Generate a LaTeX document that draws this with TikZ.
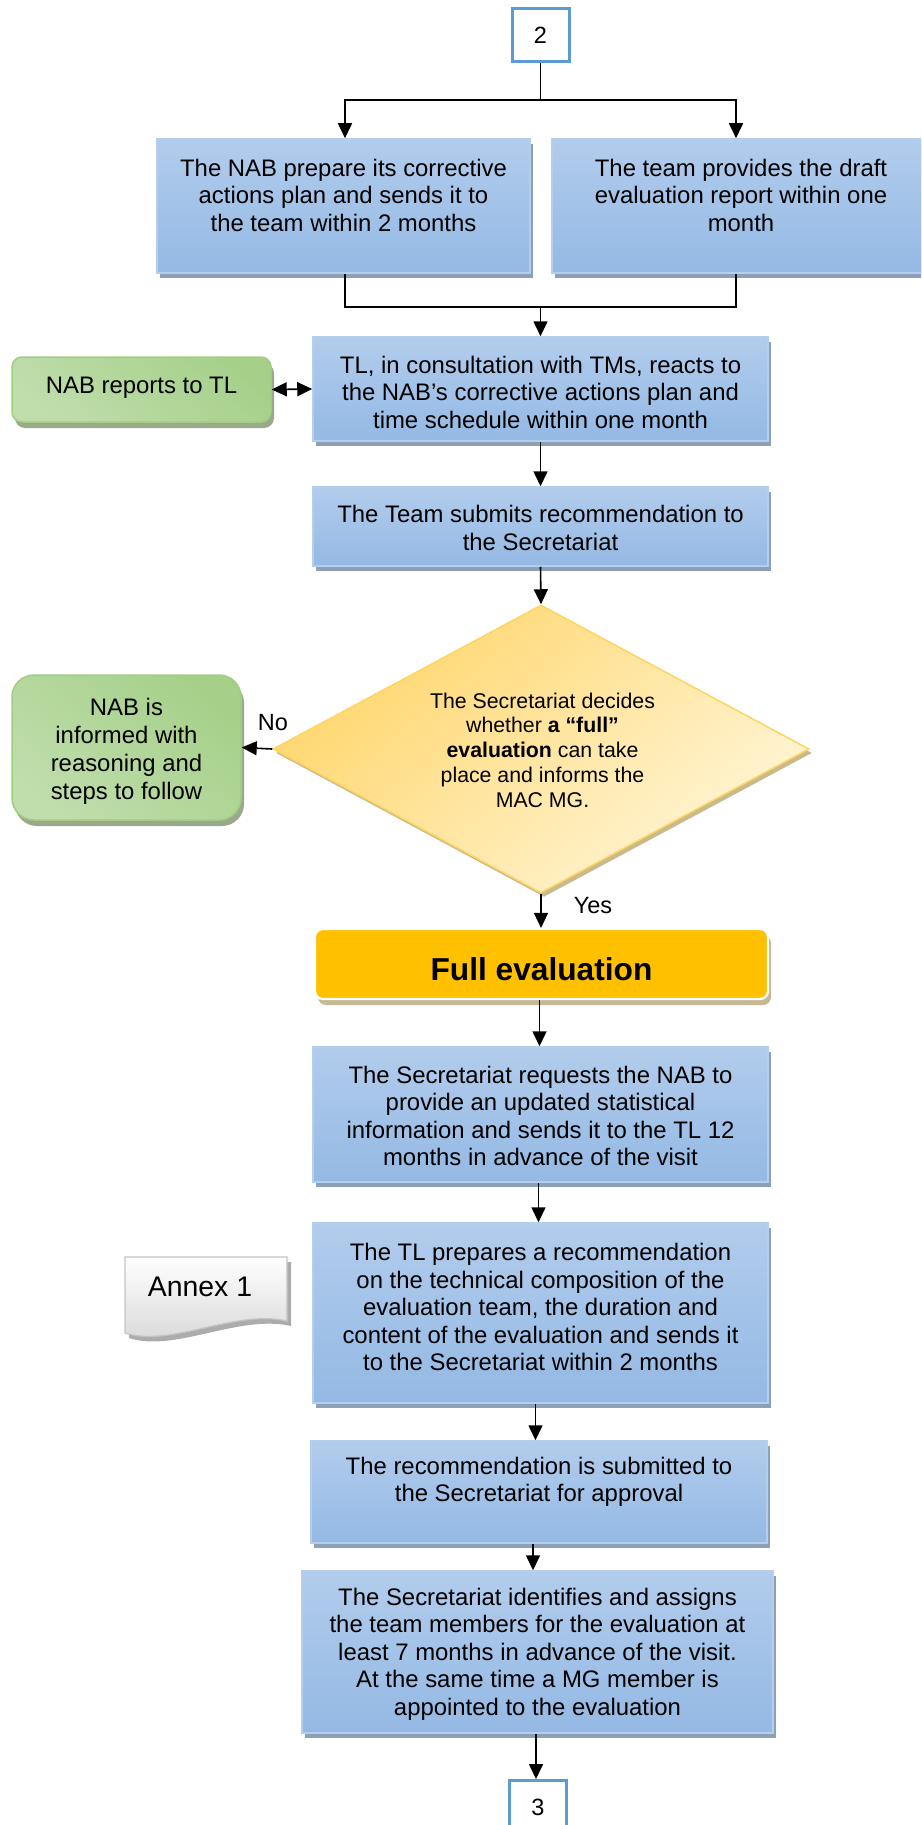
\documentclass[tikz,border=0pt]{standalone}
\usepackage{fontspec}
\setmainfont{Liberation Sans}
\usetikzlibrary{arrows.meta,shapes.geometric,shadows,calc}
\definecolor{bxtop}{RGB}{178,204,236}
\definecolor{bxbot}{RGB}{148,185,228}
\definecolor{bxline}{RGB}{182,206,238}
\definecolor{bxshadow}{RGB}{140,160,184}
\definecolor{conblue}{RGB}{91,155,213}
\definecolor{grdark}{RGB}{166,208,138}
\definecolor{grlight}{RGB}{230,241,222}
\definecolor{grline}{RGB}{160,205,130}
\definecolor{grshadow}{RGB}{155,168,140}
\definecolor{dmdark}{RGB}{255,214,108}
\definecolor{dmlight}{RGB}{255,245,215}
\definecolor{dmline}{RGB}{255,212,95}
\definecolor{dmshadow}{RGB}{200,186,140}
\definecolor{feorange}{RGB}{255,192,0}
\definecolor{feshadow}{RGB}{198,184,146}
\definecolor{anxbot}{RGB}{214,214,214}
\definecolor{anxline}{RGB}{196,196,196}
\definecolor{anxshadow}{RGB}{172,172,172}
\newcommand\boxfont{\fontsize{23.9}{27.5}\selectfont}
\newcommand\diafont{\fontsize{21.3}{24.7}\selectfont}
\tikzset{
  lin/.style={line width=1.6pt},
  arr/.style={line width=1.6pt, -{Triangle[length=15pt,width=14pt]}},
  dblarr/.style={line width=1.6pt, {Triangle[length=15pt,width=14pt]}-{Triangle[length=15pt,width=14pt]}},
  bluebox/.style={rectangle, inner sep=0pt, top color=bxtop, bottom color=bxbot,
    draw=bxline, line width=1.5pt,
    drop shadow={shadow xshift=3pt, shadow yshift=-5pt, fill=bxshadow, opacity=1}},
  greenbox/.style={rectangle, inner sep=0pt, top color=grdark, middle color=grlight, bottom color=grdark!60!grlight,
    shading angle=-40, draw=grline, line width=1.5pt,
    drop shadow={shadow xshift=3pt, shadow yshift=-6pt, fill=grshadow, opacity=1}},
  decision/.style={diamond, inner sep=0pt, top color=dmdark, bottom color=dmlight, shading angle=40,
    draw=dmline, line width=1.5pt,
    drop shadow={shadow xshift=3pt, shadow yshift=-4pt, fill=dmshadow, opacity=1}},
  fullbox/.style={rectangle, rounded corners=8pt, inner sep=0pt, fill=feorange, draw=white, line width=2.2pt,
    drop shadow={shadow xshift=3pt, shadow yshift=-6pt, fill=feshadow, opacity=1}},
  conbox/.style={rectangle, inner sep=0pt, fill=white, draw=conblue, line width=3pt,
    minimum width=57pt, minimum height=53pt, font=\fontsize{23.5}{27}\selectfont},
  txt/.style={align=center, font=\boxfont, inner sep=0pt},
  lbl/.style={inner sep=0pt, font=\fontsize{23.5}{27}\selectfont},
}
\begin{document}
\begin{tikzpicture}[x=1pt,y=-1pt]
\useasboundingbox (0,0) rectangle (921,1825);
\clip (0,0) rectangle (921,1825);

% connector box 2
\node[conbox] (b2) at (540.5,35) {2};

% first row
\node[bluebox, minimum width=373pt, minimum height=134pt] (p1) at (343.5,206) {};
\node[txt] (t1) at (343.5,195) {The NAB prepare its corrective\\actions plan and sends it to\\the team within 2 months};
\node[bluebox, minimum width=380pt, minimum height=134pt] (p2) at (742,206) {};
\node[txt] (t2) at (741,195) {The team provides the draft\\evaluation report within one\\month};

% TL box
\node[bluebox, minimum width=455pt, minimum height=104pt] (tl) at (540.5,389) {};
\node[txt] (t3) at (540.5,392) {TL, in consultation with TMs, reacts to\\the NAB’s corrective actions plan and\\time schedule within one month};

% green NAB reports
\node[greenbox, rounded corners=10pt, minimum width=259pt, minimum height=65pt] (g1) at (141.5,389.5) {};
\node[txt] (t4) at (141.5,388) {NAB reports to TL};

% Team box
\node[bluebox, minimum width=455pt, minimum height=79pt] (team) at (540.5,526.5) {};
\node[txt] (t5) at (540.5,528) {The Team submits recommendation to\\the Secretariat};

% decision
\node[decision, minimum width=536pt, minimum height=288pt] (dia) at (541,749) {};
\node[align=center, font=\diafont, inner sep=0pt] (t6) at (542.5,750) {The Secretariat decides\\whether \textbf{a “full”}\\\textbf{evaluation} can take\\place and informs the\\MAC MG.};

% green NAB informed
\node[greenbox, rounded corners=22pt, minimum width=229pt, minimum height=145pt] (g2) at (126.5,747.5) {};
\node[txt, font=\fontsize{23.9}{28}\selectfont] (t7) at (126.5,751) {NAB is\\informed with\\reasoning and\\steps to follow};

\node[lbl] (no) at (273,723) {No};
\node[lbl] (yes) at (593,906) {Yes};

% full evaluation
\node[fullbox, minimum width=453pt, minimum height=70pt] (fe) at (541.5,964) {};
\node[inner sep=0pt, font=\fontsize{31.7}{36}\selectfont\bfseries] (t8) at (541.5,969.5) {Full evaluation};

% step boxes
\node[bluebox, minimum width=455pt, minimum height=135pt] (s6) at (540.5,1114.5) {};
\node[txt] (t9) at (540.5,1116) {The Secretariat requests the NAB to\\provide an updated statistical\\information and sends it to the TL 12\\months in advance of the visit};

\node[bluebox, minimum width=455pt, minimum height=180pt] (s7) at (540.5,1313) {};
\node[txt] (t10) at (540.5,1307) {The TL prepares a recommendation\\on the technical composition of the\\evaluation team, the duration and\\content of the evaluation and sends it\\to the Secretariat within 2 months};

% annex document
\path[draw=anxline, line width=1.2pt, top color=white, bottom color=anxbot,
  drop shadow={shadow xshift=4pt, shadow yshift=-5pt, fill=anxshadow, opacity=1}]
  (125,1257) -- (287,1257) -- (287,1321) .. controls (235,1309) and (170,1348) .. (125,1333) -- cycle;
\node[inner sep=0pt, font=\fontsize{28.4}{32}\selectfont] (annex) at (200,1287) {Annex 1};

\node[bluebox, minimum width=456pt, minimum height=102pt] (s8) at (539,1492) {};
\node[txt] (t11) at (539,1482) {The recommendation is submitted to\\the Secretariat for approval};

\node[bluebox, minimum width=471pt, minimum height=162pt] (s9) at (537.5,1652) {};
\node[txt] (t12) at (537.5,1654) {The Secretariat identifies and assigns\\the team members for the evaluation at\\least 7 months in advance of the visit.\\At the same time a MG member is\\appointed to the evaluation};

% connector box 3
\node[conbox] (b3) at (538,1807) {3};

% connectors
\coordinate (split) at (540.5,100);
\coordinate (join) at (540.5,307);
\draw[lin] (b2.south) -- (split);
\draw[arr] (split) -| ([xshift=1.5pt]p1.north);
\draw[arr] (split) -| ([xshift=-6pt]p2.north);
\draw[lin] ([xshift=1.5pt]p1.south) |- (join) -| ([xshift=-6pt]p2.south);
\draw[arr] (join) -- (tl.north);
\draw[dblarr] (g1.east) -- (tl.west);
\draw[arr] (tl.south) -- (team.north);
\draw[arr] (team.south) -- (dia.north);
\draw[arr] (dia.west) -- (g2.east);
\draw[arr] (dia.south) -- (dia.south |- fe.north);
\draw[arr] ([xshift=-2pt]fe.south) -- ([xshift=-2pt]fe.south |- s6.north);
\draw[arr] ([xshift=-2pt]s6.south) -- ([xshift=-2pt]s6.south |- s7.north);
\draw[arr] ([xshift=-5pt]s7.south) -- ([xshift=-5pt]s7.south |- s8.north);
\draw[arr] ([xshift=-6pt]s8.south) -- ([xshift=-6pt]s8.south |- s9.north);
\draw[arr] ([xshift=-1.5pt]s9.south) -- ([xshift=-1.5pt]s9.south |- b3.north);
\end{tikzpicture}
\end{document}
